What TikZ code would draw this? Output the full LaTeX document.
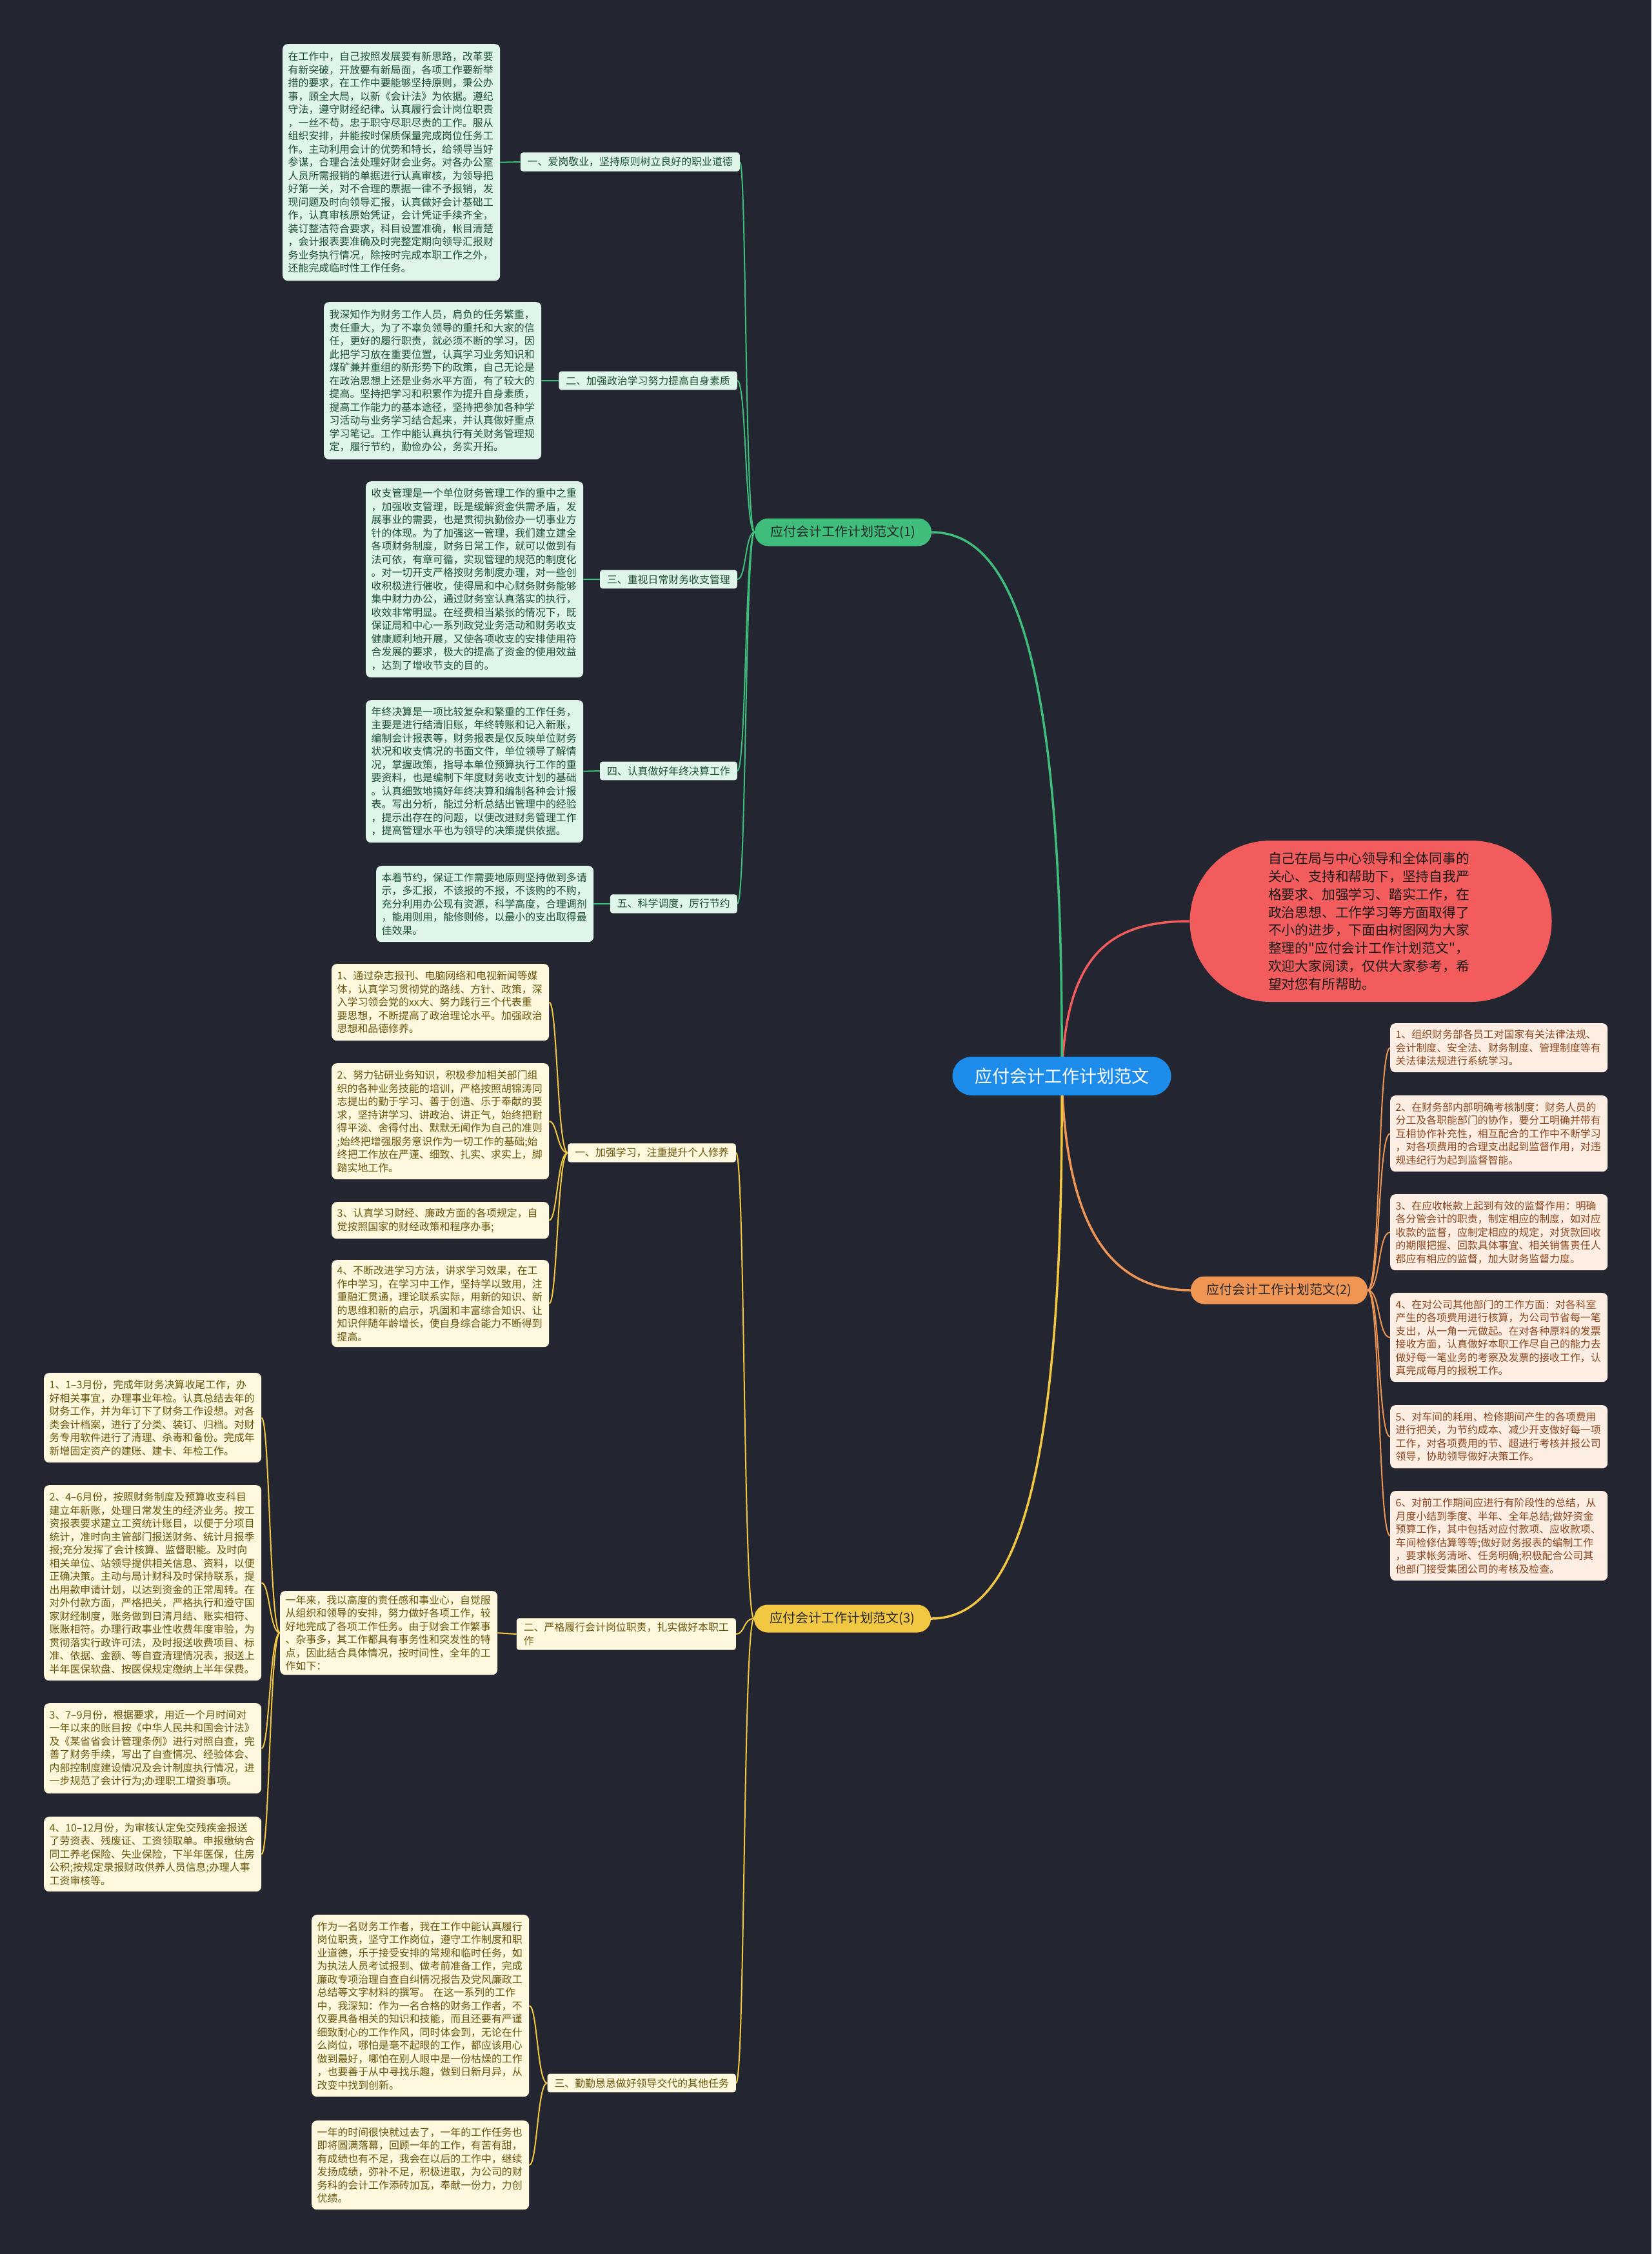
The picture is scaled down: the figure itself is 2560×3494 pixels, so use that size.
\documentclass[tikz,border=0pt]{standalone}
\usepackage{fontspec}
\newfontfamily\cjk{Noto Sans CJK SC}
\usetikzlibrary{backgrounds}
\definecolor{bgc}{RGB}{35,38,49}
\definecolor{gline}{RGB}{62,190,122}
\definecolor{gfill}{RGB}{224,245,233}
\definecolor{gtext}{RGB}{28,78,50}
\definecolor{oline}{RGB}{240,150,85}
\definecolor{ofill}{RGB}{253,238,228}
\definecolor{otext}{RGB}{140,70,30}
\definecolor{yline}{RGB}{242,200,66}
\definecolor{yfill}{RGB}{253,248,222}
\definecolor{ytext}{RGB}{105,85,10}
\definecolor{rfill}{RGB}{242,92,92}
\definecolor{rline}{RGB}{242,92,92}
\definecolor{cblue}{RGB}{30,140,235}
\begin{document}
\begin{tikzpicture}[x=1pt,y=-1pt,
  blockbase/.style={rectangle, rounded corners=8pt, anchor=north west, align=left,
    inner xsep=8.5pt, inner ysep=0pt, text width=320pt,
    font=\cjk\fontsize{15.9}{20.5}\selectfont},
  gblock/.style={blockbase, fill=gfill, text=gtext},
  oblock/.style={blockbase, fill=ofill, text=otext},
  yblock/.style={blockbase, fill=yfill, text=ytext},
  labbase/.style={rectangle, rounded corners=4pt, anchor=east, align=left,
    inner xsep=11pt, inner ysep=7pt, font=\cjk\fontsize{15.9}{20.5}\selectfont},
  glab/.style={labbase, fill=gfill, text=gtext},
  ylab/.style={labbase, fill=yfill, text=ytext},
  branch/.style={rectangle, rounded corners=21pt, minimum width=274pt, minimum height=43pt,
    inner sep=0pt, font=\cjk\fontsize{20}{24}\selectfont, text=black!85},
  gconn/.style={draw=gline, line width=2pt},
  oconn/.style={draw=oline, line width=2pt},
  yconn/.style={draw=yline, line width=2pt},
  mainconn/.style={line width=3.5pt}
]
\useasboundingbox (0,0) rectangle (2560,3494);

% central and top-level nodes
\node[rectangle, rounded corners=30pt, fill=cblue, minimum width=339pt, minimum height=60pt,
  inner sep=0pt, text=white, font=\cjk\fontsize{27}{32}\selectfont] (center) at (1646,1668) {应付会计工作计划范文};

\node[rectangle, rounded corners=125pt, fill=rfill, minimum width=561pt, minimum height=250pt,
  inner sep=0pt, align=left, text width=318pt, text=black!90,
  font=\cjk\fontsize{20.8}{27.8}\selectfont] (intro) at (2125,1428) {自己在局与中心领导和全体同事的\\
关心、支持和帮助下，坚持自我严\\
格要求、加强学习、踏实工作，在\\
政治思想、工作学习等方面取得了\\
不小的进步，下面由树图网为大家\\
整理的"应付会计工作计划范文"，\\
欢迎大家阅读，仅供大家参考，希\\
望对您有所帮助。};

\node[branch, fill=gline] (b1) at (1307,825) {应付会计工作计划范文(1)};
\node[branch, fill=oline] (b2) at (1983,2000) {应付会计工作计划范文(2)};
\node[branch, fill=yline] (b3) at (1306,2509) {应付会计工作计划范文(3)};

% ---------- branch 1 (green) ----------
\node[glab] (l1a) at (1147,251) {一、爱岗敬业，坚持原则树立良好的职业道德};
\node[glab] (l1b) at (1143,590) {二、加强政治学习努力提高自身素质};
\node[glab] (l1c) at (1143,898) {三、重视日常财务收支管理};
\node[glab] (l1d) at (1143,1195) {四、认真做好年终决算工作};
\node[glab] (l1e) at (1143,1401) {五、科学调度，厉行节约};

\node[gblock, minimum height=367pt] (g1) at (438,68) {在工作中，自己按照发展要有新思路，改革要\\
有新突破，开放要有新局面，各项工作要新举\\
措的要求，在工作中要能够坚持原则，秉公办\\
事，顾全大局，以新《会计法》为依据。遵纪\\
守法，遵守财经纪律。认真履行会计岗位职责\\
，一丝不苟，忠于职守尽职尽责的工作。服从\\
组织安排，并能按时保质保量完成岗位任务工\\
作。主动利用会计的优势和特长，给领导当好\\
参谋，合理合法处理好财会业务。对各办公室\\
人员所需报销的单据进行认真审核，为领导把\\
好第一关，对不合理的票据一律不予报销，发\\
现问题及时向领导汇报，认真做好会计基础工\\
作，认真审核原始凭证，会计凭证手续齐全，\\
装订整洁符合要求，科目设置准确，帐目清楚\\
，会计报表要准确及时完整定期向领导汇报财\\
务业务执行情况，除按时完成本职工作之外，\\
还能完成临时性工作任务。};

\node[gblock, minimum height=244pt] (g2) at (502,468) {我深知作为财务工作人员，肩负的任务繁重，\\
责任重大，为了不辜负领导的重托和大家的信\\
任，更好的履行职责，就必须不断的学习，因\\
此把学习放在重要位置，认真学习业务知识和\\
煤矿兼并重组的新形势下的政策，自己无论是\\
在政治思想上还是业务水平方面，有了较大的\\
提高。坚持把学习和积累作为提升自身素质，\\
提高工作能力的基本途径，坚持把参加各种学\\
习活动与业务学习结合起来，并认真做好重点\\
学习笔记。工作中能认真执行有关财务管理规\\
定，履行节约，勤俭办公，务实开拓。};

\node[gblock, minimum height=304pt] (g3) at (567,746) {收支管理是一个单位财务管理工作的重中之重\\
，加强收支管理，既是缓解资金供需矛盾，发\\
展事业的需要，也是贯彻执勤俭办一切事业方\\
针的体现。为了加强这一管理，我们建立建全\\
各项财务制度，财务日常工作，就可以做到有\\
法可依，有章可循，实现管理的规范的制度化\\
。对一切开支严格按财务制度办理，对一些创\\
收积极进行催收，使得局和中心财务财务能够\\
集中财力办公，通过财务室认真落实的执行，\\
收效非常明显。在经费相当紧张的情况下，既\\
保证局和中心一系列政党业务活动和财务收支\\
健康顺利地开展，又使各项收支的安排使用符\\
合发展的要求，极大的提高了资金的使用效益\\
，达到了增收节支的目的。};

\node[gblock, minimum height=221pt] (g4) at (567,1085) {年终决算是一项比较复杂和繁重的工作任务，\\
主要是进行结清旧账，年终转账和记入新账，\\
编制会计报表等，财务报表是仅反映单位财务\\
状况和收支情况的书面文件，单位领导了解情\\
况，掌握政策，指导本单位预算执行工作的重\\
要资料，也是编制下年度财务收支计划的基础\\
。认真细致地搞好年终决算和编制各种会计报\\
表。写出分析，能过分析总结出管理中的经验\\
，提示出存在的问题，以便改进财务管理工作\\
，提高管理水平也为领导的决策提供依据。};

\node[gblock, minimum height=118pt] (g5) at (583,1342) {本着节约，保证工作需要地原则坚持做到多请\\
示，多汇报，不该报的不报，不该购的不购，\\
充分利用办公现有资源，科学高度，合理调剂\\
，能用则用，能修则修，以最小的支出取得最\\
佳效果。};

% ---------- branch 2 (orange) ----------
\node[oblock, minimum height=76pt] (r1) at (2155,1586) {1、组织财务部各员工对国家有关法律法规、\\
会计制度、安全法、财务制度、管理制度等有\\
关法律法规进行系统学习。};
\node[oblock, minimum height=118pt] (r2) at (2155,1698) {2、在财务部内部明确考核制度：财务人员的\\
分工及各职能部门的协作，要分工明确并带有\\
互相协作补充性，相互配合的工作中不断学习\\
，对各项费用的合理支出起到监督作用，对违\\
规违纪行为起到监督智能。};
\node[oblock, minimum height=118pt] (r3) at (2155,1851) {3、在应收帐款上起到有效的监督作用：明确\\
各分管会计的职责，制定相应的制度，如对应\\
收款的监督，应制定相应的规定，对货款回收\\
的期限把握、回款具体事宜、相关销售责任人\\
都应有相应的监督，加大财务监督力度。};
\node[oblock, minimum height=138pt] (r4) at (2155,2004) {4、在对公司其他部门的工作方面：对各科室\\
产生的各项费用进行核算，为公司节省每一笔\\
支出，从一角一元做起。在对各种原料的发票\\
接收方面，认真做好本职工作尽自己的能力去\\
做好每一笔业务的考察及发票的接收工作，认\\
真完成每月的报税工作。};
\node[oblock, minimum height=98pt] (r5) at (2155,2178) {5、对车间的耗用、检修期间产生的各项费用\\
进行把关，为节约成本、减少开支做好每一项\\
工作，对各项费用的节、超进行考核并报公司\\
领导，协助领导做好决策工作。};
\node[oblock, minimum height=139pt] (r6) at (2155,2311) {6、对前工作期间应进行有阶段性的总结，从\\
月度小结到季度、半年、全年总结;做好资金\\
预算工作，其中包括对应付款项、应收款项、\\
车间检修估算等等;做好财务报表的编制工作\\
，要求帐务清晰、任务明确;积极配合公司其\\
他部门接受集团公司的考核及检查。};

% ---------- branch 3 (yellow) ----------
\node[ylab] (l3a) at (1141,1787) {一、加强学习，注重提升个人修养};
\node[ylab] (l3b) at (1141,2533) {二、严格履行会计岗位职责，扎实做好本职工\\作};
\node[ylab] (l3c) at (1141,3229) {三、勤勤恳恳做好领导交代的其他任务};

\node[yblock, minimum height=119pt] (y1) at (514,1494) {1、通过杂志报刊、电脑网络和电视新闻等媒\\
体，认真学习贯彻党的路线、方针、政策，深\\
入学习领会党的xx大、努力践行三个代表重\\
要思想，不断提高了政治理论水平。加强政治\\
思想和品德修养。};
\node[yblock, minimum height=180pt] (y2) at (514,1648) {2、努力钻研业务知识，积极参加相关部门组\\
织的各种业务技能的培训，严格按照胡锦涛同\\
志提出的勤于学习、善于创造、乐于奉献的要\\
求，坚持讲学习、讲政治、讲正气，始终把耐\\
得平淡、舍得付出、默默无闻作为自己的准则\\
;始终把增强服务意识作为一切工作的基础;始\\
终把工作放在严谨、细致、扎实、求实上，脚\\
踏实地工作。};
\node[yblock, minimum height=57pt] (y3) at (514,1863) {3、认真学习财经、廉政方面的各项规定，自\\
觉按照国家的财经政策和程序办事;};
\node[yblock, minimum height=135pt] (y4) at (514,1953) {4、不断改进学习方法，讲求学习效果，在工\\
作中学习，在学习中工作，坚持学以致用，注\\
重融汇贯通，理论联系实际，用新的知识、新\\
的思维和新的启示，巩固和丰富综合知识、让\\
知识伴随年龄增长，使自身综合能力不断得到\\
提高。};

\node[yblock, minimum height=130pt] (m) at (434,2466) {一年来，我以高度的责任感和事业心，自觉服\\
从组织和领导的安排，努力做好各项工作，较\\
好地完成了各项工作任务。由于财会工作繁事\\
、杂事多，其工作都具有事务性和突发性的特\\
点，因此结合具体情况，按时间性，全年的工\\
作如下：};

\node[yblock, minimum height=139pt] (f1) at (68,2128) {1、1–3月份，完成年财务决算收尾工作，办\\
好相关事宜，办理事业年检。认真总结去年的\\
财务工作，并为年订下了财务工作设想。对各\\
类会计档案，进行了分类、装订、归档。对财\\
务专用软件进行了清理、杀毒和备份。完成年\\
新增固定资产的建账、建卡、年检工作。};
\node[yblock, minimum height=303pt] (f2) at (68,2302) {2、4–6月份，按照财务制度及预算收支科目\\
建立年新账，处理日常发生的经济业务。按工\\
资报表要求建立工资统计账目，以便于分项目\\
统计，准时向主管部门报送财务、统计月报季\\
报;充分发挥了会计核算、监督职能。及时向\\
相关单位、站领导提供相关信息、资料，以便\\
正确决策。主动与局计财科及时保持联系，提\\
出用款申请计划，以达到资金的正常周转。在\\
对外付款方面，严格把关，严格执行和遵守国\\
家财经制度，账务做到日清月结、账实相符、\\
账账相符。办理行政事业性收费年度审验，为\\
贯彻落实行政许可法，及时报送收费项目、标\\
准、依据、金额、等自查清理情况表，报送上\\
半年医保软盘、按医保规定缴纳上半年保费。};
\node[yblock, minimum height=140pt] (f3) at (68,2640) {3、7–9月份，根据要求，用近一个月时间对\\
一年以来的账目按《中华人民共和国会计法》\\
及《某省省会计管理条例》进行对照自查，完\\
善了财务手续，写出了自查情况、经验体会、\\
内部控制度建设情况及会计制度执行情况，进\\
一步规范了会计行为;办理职工增资事项。};
\node[yblock, minimum height=116pt] (f4) at (68,2816) {4、10–12月份，为审核认定免交残疾金报送\\
了劳资表、残废证、工资领取单。申报缴纳合\\
同工养老保险、失业保险，下半年医保，住房\\
公积;按规定录报财政供养人员信息;办理人事\\
工资审核等。};

\node[yblock, minimum height=282pt] (c1) at (483,2968) {作为一名财务工作者，我在工作中能认真履行\\
岗位职责，坚守工作岗位，遵守工作制度和职\\
业道德，乐于接受安排的常规和临时任务，如\\
为执法人员考试报到、做考前准备工作，完成\\
廉政专项治理自查自纠情况报告及党风廉政工\\
总结等文字材料的撰写。 在这一系列的工作\\
中，我深知：作为一名合格的财务工作者，不\\
仅要具备相关的知识和技能，而且还要有严谨\\
细致耐心的工作作风，同时体会到，无论在什\\
么岗位，哪怕是毫不起眼的工作，都应该用心\\
做到最好，哪怕在别人眼中是一份枯燥的工作\\
，也要善于从中寻找乐趣，做到日新月异，从\\
改变中找到创新。};
\node[yblock, minimum height=138pt] (c2) at (483,3287) {一年的时间很快就过去了，一年的工作任务也\\
即将圆满落幕，回顾一年的工作，有苦有甜，\\
有成绩也有不足，我会在以后的工作中，继续\\
发扬成绩，弥补不足，积极进取，为公司的财\\
务科的会计工作添砖加瓦，奉献一份力，力创\\
优绩。};

% ---------- connectors ----------
\begin{scope}[on background layer]
\fill[bgc] (0,0) rectangle (2560,3494);
% main
\draw[mainconn, draw=rline] (center.center) .. controls (1652,1480) and (1720,1428) .. (intro.west);
\draw[mainconn, draw=gline] (center.center) .. controls (1649,1050) and (1580,825) .. (b1.east);
\draw[mainconn, draw=oline] (center.center) .. controls (1652,1900) and (1720,2000) .. (b2.west);
\draw[mainconn, draw=yline] (center.center) .. controls (1649,2280) and (1580,2509) .. (b3.east);
% branch 1
\foreach \n/\yy in {l1a/251,l1b/590,l1c/898,l1d/1195,l1e/1401}
  \draw[gconn] (b1.west) .. controls (1155,825) and (1157,\yy) .. (\n.east);
\draw[gconn] (l1a.west) -- (g1.east);
\draw[gconn] (l1b.west) -- (g2.east);
\draw[gconn] (l1c.west) -- (g3.east);
\draw[gconn] (l1d.west) -- (g4.east);
\draw[gconn] (l1e.west) -- (g5.east);
% branch 2
\foreach \n/\yy in {r1/1624,r2/1757,r3/1910,r4/2073,r5/2227,r6/2380}
  \draw[oconn] (b2.east) .. controls (2140,2000) and (2136,\yy) .. (\n.west);
% branch 3
\foreach \n/\yy in {l3a/1787,l3b/2533,l3c/3229}
  \draw[yconn] (b3.west) .. controls (1152,2509) and (1155,\yy) .. (\n.east);
\foreach \n/\yy in {y1/1553,y2/1738,y3/1891,y4/2020}
  \draw[yconn] (l3a.west) .. controls (864,1787) and (864,\yy) .. (\n.east);
\draw[yconn] (l3b.west) -- (m.east);
\foreach \n/\yy in {f1/2197,f2/2453,f3/2710,f4/2874}
  \draw[yconn] (m.west) .. controls (418,2531) and (418,\yy) .. (\n.east);
\foreach \n/\yy in {c1/3109,c2/3356}
  \draw[yconn] (l3c.west) .. controls (833,3229) and (833,\yy) .. (\n.east);
\end{scope}
\end{tikzpicture}
\end{document}
